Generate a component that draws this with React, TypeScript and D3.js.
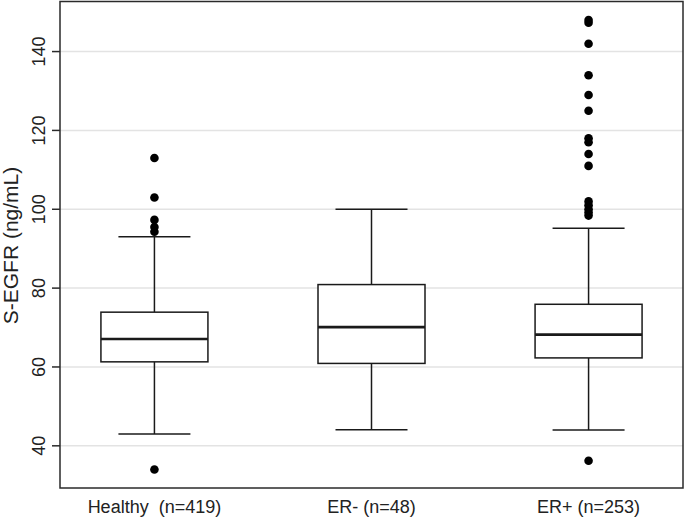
import * as d3 from 'd3';

// groups and box statistics
const groups = ['Healthy  (n=419)', 'ER- (n=48)', 'ER+ (n=253)'];
const lowerWhisker = [43, 44.1, 44];
const q1 = [61.3, 60.9, 62.3];
const median = [67.1, 70.1, 68.2];
const q3 = [73.9, 80.9, 75.9];
const upperWhisker = [93, 100, 95.2];
const outliers = [
  [113, 103, 97.3, 95.5, 94.3, 34],
  [],
  [148, 147.3, 142, 134, 129, 125, 118, 117, 114, 111, 102, 101, 100, 99.2, 98.4, 36.2],
];
const yTicks = [40, 60, 80, 100, 120, 140];

export default function App() {
  const W = 685;
  const H = 518;
  const left = 60;
  const right = 683;
  const top = 1.5;
  const bottom = 488;

  const x = d3.scalePoint<string>().domain(groups).range([left, right]).padding(0.435);
  const y = d3.scaleLinear().domain([29.3, 152.7]).range([bottom, top]);

  const boxW = 107;
  const capW = 72;
  const font = '"Liberation Sans", Arial, sans-serif';

  return (
    <svg width={W} height={H} style={{ position: 'absolute', left: 0, top: 0, background: '#fff' }}>
      {/* grid lines */}
      {yTicks.map((t) => (
        <line key={'g' + t} x1={left} x2={right} y1={y(t)} y2={y(t)} stroke="#e3e3e3" strokeWidth={1.5} />
      ))}

      {groups.map((g, i) => {
        const cx = x(g) as number;
        return (
          <g key={g} stroke="#1a1a1a" strokeWidth={1.5} fill="none">
            {/* whiskers */}
            <line x1={cx} x2={cx} y1={y(q3[i])} y2={y(upperWhisker[i])} />
            <line x1={cx} x2={cx} y1={y(q1[i])} y2={y(lowerWhisker[i])} />
            <line x1={cx - capW / 2} x2={cx + capW / 2} y1={y(upperWhisker[i])} y2={y(upperWhisker[i])} />
            <line x1={cx - capW / 2} x2={cx + capW / 2} y1={y(lowerWhisker[i])} y2={y(lowerWhisker[i])} />
            {/* box */}
            <rect x={cx - boxW / 2} y={y(q3[i])} width={boxW} height={y(q1[i]) - y(q3[i])} fill="#fff" />
            <line x1={cx - boxW / 2} x2={cx + boxW / 2} y1={y(median[i])} y2={y(median[i])} strokeWidth={2.6} />
            {/* outliers */}
            {outliers[i].map((v, j) => (
              <circle key={j} cx={cx} cy={y(v)} r={4.3} fill="#000" stroke="none" />
            ))}
          </g>
        );
      })}

      {/* frame */}
      <rect x={left} y={top} width={right - left} height={bottom - top} fill="none" stroke="#2a2a2a" strokeWidth={1.5} />

      {/* y ticks */}
      {yTicks.map((t) => (
        <g key={'t' + t}>
          <line x1={left - 8} x2={left} y1={y(t)} y2={y(t)} stroke="#2a2a2a" strokeWidth={1.5} />
          <text
            transform={`translate(45,${y(t)}) rotate(-90)`}
            textAnchor="middle"
            fontFamily={font}
            fontSize={18}
            fill="#222"
          >
            {t}
          </text>
        </g>
      ))}

      {/* y title */}
      <text transform="translate(18,245.5) rotate(-90)" textAnchor="middle" fontFamily={font} fontSize={21} fill="#222">
        S-EGFR (ng/mL)
      </text>

      {/* x labels */}
      {groups.map((g) => (
        <text
          key={'l' + g}
          x={x(g) as number}
          y={513}
          textAnchor="middle"
          fontFamily={font}
          fontSize={18}
          fill="#222"
          style={{ whiteSpace: 'pre' }}
        >
          {g}
        </text>
      ))}
    </svg>
  );
}
